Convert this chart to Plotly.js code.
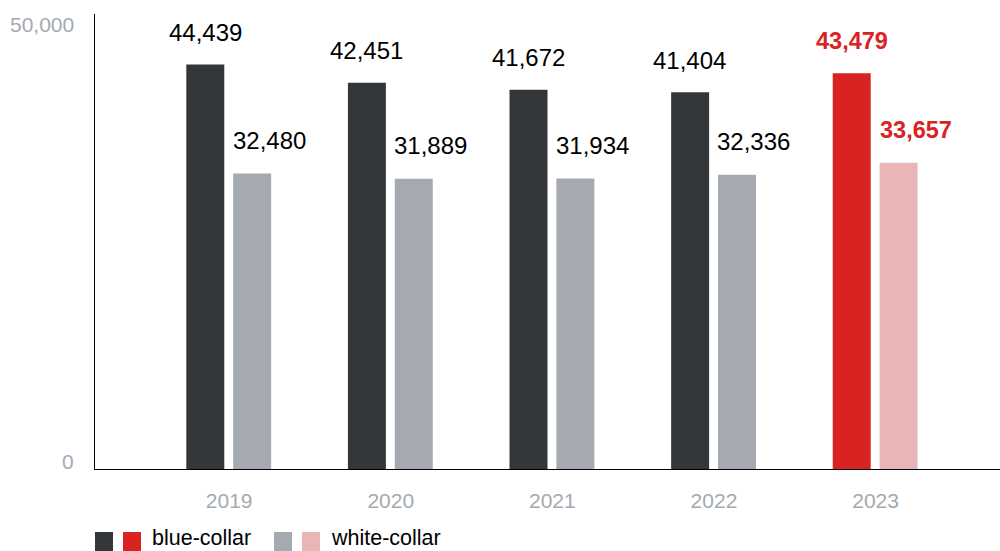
<!DOCTYPE html>
<html>
<head>
<meta charset="utf-8">
<script src="https://cdn.plot.ly/plotly-3.0.1.min.js"></script>
<style>html,body{margin:0;padding:0;background:#fff;}#chart{width:1000px;height:551px;}</style>
</head>
<body>
<div id="chart"></div>
<script>
const years = ['2019', '2020', '2021', '2022', '2023'];
const blueCollar = [44439, 42451, 41672, 41404, 43479];
const whiteCollar = [32480, 31889, 31934, 32336, 33657];
const yTickVals = [0, 50000];
const yTickText = ['0', '50,000'];
const legendNames = ['blue-collar', 'white-collar'];

const DARK = '#34373a', RED = '#d92323', GRAY = '#a4aab0', PINK = '#e8b6b6';
const highlight = years.length - 1;
const blueColors = years.map((y, i) => i === highlight ? RED : DARK);
const whiteColors = years.map((y, i) => i === highlight ? PINK : GRAY);
const FONT = 'Liberation Sans, Arial, Helvetica, sans-serif';

const traces = [
  {type: 'bar', x: years, y: blueCollar, name: legendNames[0], marker: {color: blueColors},
   width: 0.235, offset: -0.265, hoverinfo: 'skip', showlegend: false},
  {type: 'bar', x: years, y: whiteCollar, name: legendNames[1], marker: {color: whiteColors},
   width: 0.235, offset: 0.025, hoverinfo: 'skip', showlegend: false}
];

const fmt = v => v.toLocaleString('en-US');
const annotations = [];
years.forEach((yr, i) => {
  const hl = i === highlight;
  annotations.push({x: i, y: blueCollar[i], xref: 'x', yref: 'y', text: hl ? '<b>' + fmt(blueCollar[i]) + '</b>' : fmt(blueCollar[i]),
    showarrow: false, xshift: -24, yshift: 32, font: {family: FONT, size: hl ? 23.5 : 24, color: hl ? RED : '#000'}});
  annotations.push({x: i, y: whiteCollar[i], xref: 'x', yref: 'y', text: hl ? '<b>' + fmt(whiteCollar[i]) + '</b>' : fmt(whiteCollar[i]),
    showarrow: false, xshift: 40, yshift: 33, font: {family: FONT, size: hl ? 23.5 : 24, color: hl ? RED : '#000'}});
});
yTickVals.forEach((v, i) => {
  annotations.push({x: 0, y: v, xref: 'paper', yref: 'y', text: yTickText[i], showarrow: false,
    xanchor: 'right', xshift: -19, yshift: v === 0 ? 8 : -10, font: {family: FONT, size: 21, color: GRAY}});
});
// legend
annotations.push({x: 0, y: 0, xref: 'paper', yref: 'paper', text: legendNames[0], showarrow: false, xanchor: 'left', yanchor: 'middle',
  xshift: 56, yshift: -69, borderpad: 0, font: {family: FONT, size: 21.5, color: '#000'}});
annotations.push({x: 0, y: 0, xref: 'paper', yref: 'paper', text: legendNames[1], showarrow: false, xanchor: 'left', yanchor: 'middle',
  xshift: 235, yshift: -69, borderpad: 0, font: {family: FONT, size: 21.5, color: '#000'}});

const L = 95, R = 0, T = 14, B = 82, W = 1000, H = 551;
const pw = W - L - R, ph = H - T - B;
const px = x => (x - L) / pw;
const py = y => (H - B - y) / ph;
const sq = (x0, c) => ({type: 'rect', xref: 'paper', yref: 'paper', x0: px(x0), x1: px(x0 + 18), y0: py(551), y1: py(532),
  fillcolor: c, line: {width: 0}});
const shapes = [sq(95, DARK), sq(123, RED), sq(274, GRAY), sq(302, PINK)];

const layout = {
  width: 1000, height: 551,
  margin: {l: L, r: R, t: T, b: B, pad: 0},
  paper_bgcolor: '#fff', plot_bgcolor: '#fff',
  showlegend: false,
  xaxis: {type: 'category', range: [-0.83, 4.77], showgrid: false, zeroline: false,
    showline: true, linecolor: '#000', linewidth: 1, ticks: '', ticklabelstandoff: 13,
    tickfont: {family: FONT, size: 21, color: GRAY}},
  yaxis: {range: [0, 50000], showgrid: false, zeroline: false, showline: true, linecolor: '#000', linewidth: 1,
    tickvals: yTickVals, showticklabels: false, ticks: ''},
  annotations: annotations,
  shapes: shapes,
  font: {family: FONT}
};

Plotly.newPlot('chart', traces, layout, {displayModeBar: false, staticPlot: true});
</script>
</body>
</html>
